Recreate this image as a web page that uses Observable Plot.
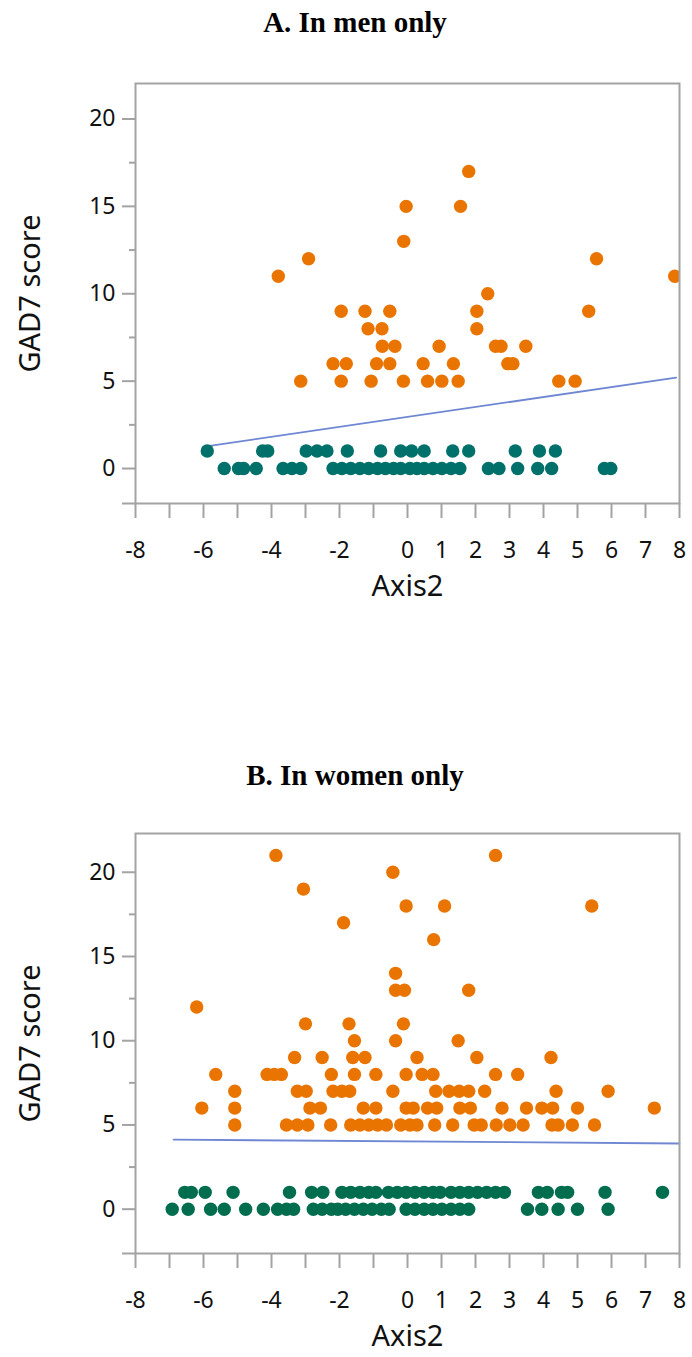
<!DOCTYPE html>
<html><head><meta charset="utf-8">
<script src="https://cdn.jsdelivr.net/npm/d3@7"></script>
<script src="https://cdn.jsdelivr.net/npm/@observablehq/plot@0.6"></script>
<style>
body{margin:0;background:#fff;width:692px;height:1357px;position:relative;overflow:hidden}
.title{position:absolute;left:0;width:692px;text-align:center;font:bold 29px "Liberation Serif","Times New Roman",serif;line-height:34px;color:#000;padding-left:18px;box-sizing:border-box}
.panel{position:absolute;left:0}
</style></head><body>
<div class="title" style="top:5px">A. In men only</div>
<div class="panel" id="pA" style="top:50px"></div>
<div class="title" style="top:758px">B. In women only</div>
<div class="panel" id="pB" style="top:800px"></div>
<script>
// ---- shared axis data ----
const xDomain = [-8, 8];
const xTicks = [-8,-7,-6,-5,-4,-3,-2,-1,0,1,2,3,4,5,6,7,8];
const xTickLabels = ["-8","","-6","","-4","","-2","","0","1","2","3","4","5","6","7","8"];
const yMajorTicks = [0, 5, 10, 15, 20];
const yMinorTicks = [2.5, 7.5, 12.5, 17.5];
const xLabel = "Axis2";
const yLabel = "GAD7 score";

// ---- Panel A: men ----
const menYDomain = [-2.0, 22.03];
const menOrangeX = [1.80, -0.04, 1.56, -0.11, -2.91, 5.56, -3.80, 7.86, 2.36,
  -1.95, -1.25, -0.52, 2.04, 5.33,
  -1.16, -0.75, 2.04,
  -0.74, -0.37, 0.93, 2.59, 2.75, 3.48,
  -2.19, -1.80, -0.91, -0.52, 0.46, 1.35, 2.95, 3.10,
  -3.14, -1.95, -1.07, -0.12, 0.59, 1.01, 1.49, 4.45, 4.93];
const menOrangeY = [17, 15, 15, 13, 12, 12, 11, 11, 10,
  9, 9, 9, 9, 9,
  8, 8, 8,
  7, 7, 7, 7, 7, 7,
  6, 6, 6, 6, 6, 6, 6, 6,
  5, 5, 5, 5, 5, 5, 5, 5, 5];
const menTealX = [-5.89, -4.26, -4.11, -2.98, -2.66, -2.37, -1.77, -0.79, -0.20, 0.12, 0.49, 1.33, 1.80, 3.17, 3.88, 4.35,
  -5.39, -4.97, -4.82, -4.45, -3.66, -3.40, -3.14, -2.19, -1.93, -1.67, -1.40, -1.14, -0.88, -0.65, -0.41, -0.20,
  0.07, 0.28, 0.49, 0.75, 1.01, 1.28, 1.54, 2.38, 2.69, 3.24, 3.83, 4.24, 5.79, 5.98];
const menTealY = [1,1,1,1,1,1,1,1,1,1,1,1,1,1,1,1,
  0,0,0,0,0,0,0,0,0,0,0,0,0,0,0,0,
  0,0,0,0,0,0,0,0,0,0,0,0,0,0];
const menFitX = [-5.87, 7.9];
const menFitY = [1.28, 5.2];

// ---- Panel B: women ----
const womenYDomain = [-2.63, 22.3];
const womenOrangeX = [-3.87, 2.59, -0.43, -3.06, -0.04, 1.09, 5.42, -1.88, 0.77, -0.35,
  -0.35, -0.09, 1.80, -6.20, -3.0, -1.72, -0.12, -1.56, -0.35, 1.49,
  -3.32, -2.51, -1.61, -1.25, 0.28, 2.04, 4.22,
  -5.64, -4.13, -3.92, -3.71, -2.24, -1.56, -0.93, -0.04, 0.43, 0.75, 2.59, 3.24,
  -5.08, -3.24, -2.98, -2.19, -1.93, -1.70, -0.43, 0.83, 1.22, 1.52, 1.80, 2.27, 4.37, 5.90,
  -6.05, -5.08, -2.87, -2.56, -1.30, -0.93, -0.04, 0.17, 0.59, 0.86, 1.54, 1.85, 2.78, 3.50, 3.95, 4.27, 5.00, 7.26,
  -5.08, -3.56, -3.24, -2.93, -2.26, -1.67, -1.40, -1.14, -0.88, -0.62, -0.20, 0.07, 0.28, 0.80, 1.33, 1.96, 2.17, 2.61, 3.01, 3.40, 4.25, 4.43, 4.85, 5.50];
const womenOrangeY = [21, 21, 20, 19, 18, 18, 18, 17, 16, 14,
  13, 13, 13, 12, 11, 11, 11, 10, 10, 10,
  9, 9, 9, 9, 9, 9, 9,
  8, 8, 8, 8, 8, 8, 8, 8, 8, 8, 8, 8,
  7, 7, 7, 7, 7, 7, 7, 7, 7, 7, 7, 7, 7, 7,
  6, 6, 6, 6, 6, 6, 6, 6, 6, 6, 6, 6, 6, 6, 6, 6, 6, 6,
  5, 5, 5, 5, 5, 5, 5, 5, 5, 5, 5, 5, 5, 5, 5, 5, 5, 5, 5, 5, 5, 5, 5, 5];
const womenTealX = [-6.55, -6.36, -5.95, -5.13, -3.47, -2.82, -2.49, -1.93, -1.67, -1.40, -1.14, -0.93, -0.56, -0.30, -0.04, 0.22,
  0.49, 0.75, 0.96, 1.28, 1.54, 1.80, 2.06, 2.33, 2.59, 2.85, 3.85, 4.11, 4.53, 4.71, 5.81, 7.50,
  -6.92, -6.45, -5.79, -5.39, -4.76, -4.24, -3.82, -3.56, -3.35, -2.77, -2.51, -2.24, -2.05, -1.82, -1.56, -1.30,
  -1.04, -0.77, -0.54, -0.04, 0.22, 0.49, 0.75, 1.01, 1.28, 1.54, 1.80, 3.53, 3.95, 4.43, 5.00, 5.90];
const womenTealY = [1,1,1,1,1,1,1,1,1,1,1,1,1,1,1,1,
  1,1,1,1,1,1,1,1,1,1,1,1,1,1,1,1,
  0,0,0,0,0,0,0,0,0,0,0,0,0,0,0,0,
  0,0,0,0,0,0,0,0,0,0,0,0,0,0,0,0];
const womenFitX = [-6.88, 8];
const womenFitY = [4.13, 3.90];

const orangeColor = "#e97500";
const menTealColor = "#00706b";
const womenTealColor = "#006d4f";
const fitColor = "#6f87d2";
const gray = "#a3a3a3";

function panel(o) {
  const orange = o.orangeX.map((x, i) => ({x, y: o.orangeY[i]}));
  const teal = o.tealX.map((x, i) => ({x, y: o.tealY[i]}));
  const fit = o.fitX.map((x, i) => ({x, y: o.fitY[i]}));
  const plotH = 420, mt = 33;
  return Plot.plot({
    width: 692, height: o.height,
    marginLeft: 135, marginRight: 13, marginTop: mt, marginBottom: o.height - mt - plotH,
    style: {fontFamily: "'Noto Sans', 'DejaVu Sans', sans-serif", background: "#fff", color: "#111", overflow: "visible"},
    x: {domain: xDomain},
    y: {domain: o.yDomain},
    marks: [
      Plot.axisY({ticks: yMajorTicks, tickSize: 13, tickPadding: 7, stroke: gray, strokeWidth: 2, fill: "#111", fontSize: 23, label: null, tickFormat: d => String(d)}),
      Plot.axisY({ticks: yMinorTicks, tickSize: 6, stroke: gray, strokeWidth: 2, label: null, tickFormat: () => ""}),
      Plot.axisY({ticks: [o.yDomain[0]], tickSize: 13, stroke: gray, strokeWidth: 2, label: null, tickFormat: () => ""}),
      Plot.axisX({ticks: xTicks, tickSize: 15, tickPadding: 23, stroke: gray, strokeWidth: 2, fill: "#111", fontSize: 23, label: null,
        tickFormat: d => xTickLabels[xTicks.indexOf(d)]}),
      Plot.line(fit, {x: "x", y: "y", stroke: fitColor, strokeWidth: 1.8}),
      Plot.dot(teal, {x: "x", y: "y", r: 6.7, fill: o.tealColor, clip: true}),
      Plot.dot(orange, {x: "x", y: "y", r: 6.7, fill: orangeColor, clip: true}),
      Plot.frame({stroke: gray, strokeWidth: 2}),
      Plot.text([xLabel], {frameAnchor: "bottom", dy: 83, lineAnchor: "middle", fontSize: 29, fill: "#111", text: d => d}),
      Plot.text([yLabel], {frameAnchor: "left", dx: -105, rotate: -90, textAnchor: "middle", lineAnchor: "middle", fontSize: 29, fill: "#111", text: d => d})
    ]
  });
}

document.getElementById("pA").append(panel({
  orangeX: menOrangeX, orangeY: menOrangeY, tealX: menTealX, tealY: menTealY,
  fitX: menFitX, fitY: menFitY, yDomain: menYDomain, tealColor: menTealColor, height: 570
}));
document.getElementById("pB").append(panel({
  orangeX: womenOrangeX, orangeY: womenOrangeY, tealX: womenTealX, tealY: womenTealY,
  fitX: womenFitX, fitY: womenFitY, yDomain: womenYDomain, tealColor: womenTealColor, height: 557
}));
</script>
</body></html>
